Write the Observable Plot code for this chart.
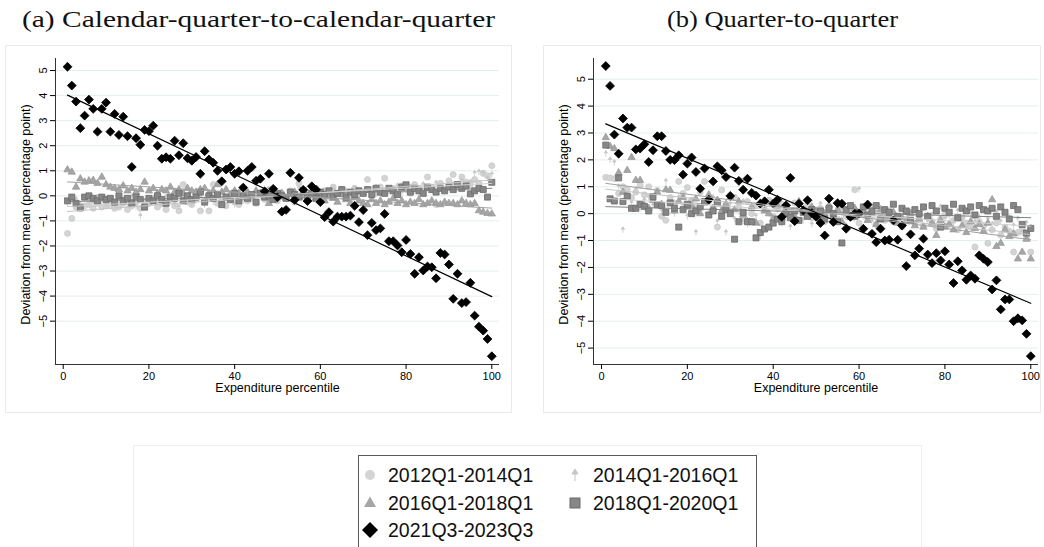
<!DOCTYPE html>
<html>
<head>
<meta charset="utf-8">
<script src="https://cdn.jsdelivr.net/npm/d3@7"></script>
<script src="https://cdn.jsdelivr.net/npm/@observablehq/plot@0.6"></script>
<style>
  body { margin: 0; background: #fff; width: 1044px; height: 547px; overflow: hidden; position: relative;
         font-family: "Liberation Sans", Arial, sans-serif; }
  .title { position: absolute; top: 6px; font-family: "Liberation Serif", serif; font-size: 24px;
           white-space: nowrap; color: #111; transform-origin: 0 0; }
  .panel { position: absolute; top: 45px; height: 368px; border: 1px solid #e6ecee; box-sizing: border-box; }
  .panel svg { display: block; }
  #outer { position: absolute; left: 133px; top: 445px; width: 787px; height: 130px; border: 1px solid #eceff0; }
  #legend { position: absolute; left: 358px; top: 455px; width: 397px; height: 130px; border: 1px solid #5a5a5a; background: #fff; }
  .item { position: absolute; font-size: 19.5px; line-height: 20px; color: #111; white-space: nowrap; }
  .item svg { position: absolute; left: -26px; top: 0; }
</style>
</head>
<body>
<div class="title" data-w="473" style="left:22px">(a) Calendar-quarter-to-calendar-quarter</div>
<div class="title" data-w="231" style="left:667px">(b) Quarter-to-quarter</div>
<div class="panel" id="pa" style="left:5px;width:507px"></div>
<div class="panel" id="pb" style="left:543px;width:498px"></div>
<div id="outer"></div>
<div id="legend"></div>
<script>
// expenditure percentiles
const pct = d3.range(1, 101)

// (a) calendar-quarter-to-calendar-quarter
const a12 = [-1.5, -0.9, -0.45, -0.5, -0.4, -0.35, -0.5, -0.3, -0.45, -0.4,
  -0.35, -0.5, -0.45, -0.3, -0.55, -0.4, -0.25, -0.5, -0.35, -0.3,
  -0.2, -0.45, -0.3, -0.55, -0.15, -0.4, -0.6, 0.45, -0.25, -0.35,
  -0.1, -0.6, -0.2, -0.6, 0.45, -0.3, -0.15, -0.4, 0.0, -0.25,
  -0.35, 0.05, -0.2, -0.1, -0.3, 0.1, -0.15, 0.25, -0.05, -0.2,
  0.1, -0.1, 0.2, -0.25, 0.5, 0.05, 0.15, -0.1, 0.3, 0.0,
  0.2, -0.05, 0.35, 0.1, 0.25, 0.15, -0.15, 0.3, 0.2, 0.1,
  0.65, 0.25, 0.1, 0.35, 0.7, 0.2, 0.3, 0.15, 0.4, 0.25,
  0.1, 0.45, 0.3, 0.2, 0.75, 0.35, -0.35, 0.5, 0.25, 0.6,
  0.85, 0.4, 0.75, 0.55, 0.45, 0.65, 0.5, 0.9, 0.8, 1.2]
const a14 = [-0.3, -0.2, -0.15, -0.35, -0.1, -0.25, -0.3, -0.05, -0.2, -0.4,
  -0.1, -0.3, -0.2, -0.15, -0.35, -0.05, -0.45, -0.8, -0.2, -0.3,
  -0.1, -0.25, -0.35, -0.05, -0.2, -0.3, -0.45, -0.1, -0.15, -0.3,
  -0.2, -0.05, -0.35, -0.15, -0.25, 0.05, -0.3, -0.1, -0.2, -0.35,
  -0.05, -0.2, 0.1, -0.15, -0.3, 0.0, -0.1, -0.25, 0.05, -0.15,
  0.1, -0.05, 0.15, 0.0, 0.3, -0.1, 0.05, 0.2, -0.05, 0.1,
  0.15, 0.0, 0.25, 0.1, -0.05, 0.2, 0.1, 0.3, 0.05, 0.15,
  0.25, 0.1, 0.35, 0.0, 0.2, 0.3, 0.15, 0.4, 0.1, 0.25,
  0.35, 0.2, 0.15, 0.45, 0.3, 0.25, 0.5, 0.35, 0.2, 0.4,
  0.45, 0.3, 0.6, 0.4, 0.55, 0.9, 0.95, 0.9, 0.7, 0.85]
const a16 = [1.04, 0.95, 0.35, 0.68, 0.55, 0.6, 0.62, 0.5, 0.75, 0.45,
  0.35, 0.3, 0.25, 0.4, 0.2, 0.3, 0.15, 0.25, 0.55, 0.2,
  0.3, 0.1, 0.25, 0.2, 0.35, 0.15, 0.25, 0.1, 0.3, 0.2,
  0.15, 0.25, 0.3, 0.1, 0.2, 0.45, 0.15, 0.25, 0.05, 0.2,
  0.1, 0.3, 0.15, 0.0, 0.2, 0.1, -0.05, -0.3, 0.15, 0.05,
  0.1, -0.1, 0.05, 0.15, -0.05, 0.0, -0.15, 0.1, -0.1, 0.05,
  -0.2, 0.0, -0.1, -0.25, 0.05, -0.15, -0.3, -0.05, -0.2, -0.3,
  -0.35, -0.15, -0.3, -0.2, -0.35, -0.25, -0.1, -0.3, -0.2, -0.35,
  -0.25, -0.3, -0.15, -0.35, -0.3, -0.2, -0.3, -0.35, -0.25, -0.3,
  -0.3, -0.35, -0.2, -0.3, -0.35, -0.3, -0.59, -0.65, -0.7, -0.72]
const a18 = [-0.2, -0.05, -0.3, -0.48, -0.05, 0.0, -0.1, -0.2, -0.05, -0.15,
  -0.1, -0.25, 0.0, -0.2, -0.1, -0.3, -0.05, -0.15, -0.45, -0.1,
  -0.2, 0.0, -0.15, -0.3, -0.05, -0.1, 0.1, -0.2, 0.0, -0.15,
  -0.05, 0.15, -0.25, 0.0, -0.1, 0.05, -0.35, -0.05, -0.15, 0.1,
  -0.2, 0.0, -0.1, 0.05, -0.25, 0.1, -0.05, 0.0, -0.15, 0.1,
  0.0, -0.1, 0.15, 0.05, -0.05, 0.2, 0.0, 0.1, -0.1, 0.15,
  0.05, 0.2, 0.0, 0.1, 0.25, -0.05, 0.15, 0.05, 0.2, 0.1,
  0.25, 0.05, 0.3, 0.15, 0.1, 0.3, 0.2, 0.05, 0.35, 0.44,
  0.15, 0.3, 0.2, 0.1, 0.35, 0.25, 0.15, 0.3, 0.2, 0.35,
  0.25, 0.45, 0.3, 0.4, 0.08, 0.2, 0.3, 0.25, -0.05, 0.54]
const a21 = [5.15, 4.4, 3.76, 2.7, 3.2, 3.84, 3.47, 2.56, 3.47, 3.72,
  2.56, 3.27, 2.43, 3.16, 2.38, 1.15, 2.3, 2.04, 2.63, 2.58,
  2.8, 2.0, 1.48, 1.54, 1.48, 2.2, 1.62, 2.1, 1.5, 1.4,
  1.55, 0.88, 1.78, 1.45, 1.32, 1.0, 0.58, 1.05, 1.15, 0.88,
  0.98, 0.33, 1.0, 1.15, 0.6, 0.68, 0.18, 0.88, 0.28, -0.06,
  -0.63, -0.56, 0.92, -0.16, 0.72, 0.24, -0.21, 0.38, 0.24, -0.25,
  -0.85, -0.65, -1.03, -0.83, -0.83, -0.83, -0.79, -0.4, -1.05, -0.57,
  -1.57, -1.08, -1.37, -1.3, -0.72, -1.81, -1.81, -1.98, -2.25, -1.76,
  -2.32, -3.11, -2.45, -2.98, -2.82, -2.85, -3.29, -2.28, -2.34, -2.74,
  -4.11, -3.11, -4.28, -4.24, -3.47, -4.78, -5.22, -5.38, -5.71, -6.4]

// (b) quarter-to-quarter
const b12 = [1.35, 1.33, 1.3, 0.75, 1.0, 0.9, 0.6, 0.8, 1.05, 0.7,
  1.0, 0.5, 0.86, -0.1, -0.25, 0.6, 0.4, 1.2, 0.75, 0.97,
  0.5, 0.3, 0.8, 1.2, 0.45, 0.2, -0.5, 0.88, 0.35, 0.1,
  0.6, 0.25, -0.2, 0.45, 0.0, 0.3, -0.35, 0.15, 0.5, -0.1,
  0.2, 0.35, -0.05, 0.1, 0.4, -0.25, 0.05, 0.3, -0.15, 0.1,
  0.2, -0.3, 0.15, 0.0, -0.2, 0.25, -0.1, 0.1, 0.89, -0.35,
  0.05, -0.15, 0.2, -0.4, 0.0, -0.25, 0.1, -0.3, -0.1, -0.5,
  -0.2, 0.05, -0.35, -0.15, -0.45, -0.1, -0.3, -0.55, -0.2, -0.05,
  -0.4, -0.25, -0.6, -0.15, -0.35, -0.5, -1.24, -0.3, -0.45, -1.1,
  -0.6, -0.35, -0.8, -0.5, -0.65, -1.43, -0.7, -0.55, -0.9, -1.43]
const b14 = [2.24, 2.0, 1.9, 1.0, -0.6, 0.7, 0.4, 0.9, 0.2, 0.5,
  0.6, 0.3, 0.8, 0.1, 1.2, 0.4, 0.0, 0.6, 0.3, -0.1,
  0.5, -0.7, 0.2, 0.4, 0.0, 0.6, -0.3, 0.2, -0.7, 0.35,
  -0.2, 0.1, 0.45, -0.4, 0.2, -0.1, -0.85, 0.3, 0.0, -0.2,
  0.15, -0.35, 0.25, -0.5, 0.0, 0.3, -0.25, 0.1, -0.4, 0.05,
  0.35, -0.15, 0.1, -0.3, 0.2, 0.0, -0.45, 0.15, -0.2, 0.9,
  -0.1, 0.2, -0.3, 0.05, -0.5, 0.15, -0.2, 0.0, -0.35, 0.1,
  -0.25, 0.05, -0.4, -0.1, 0.2, -0.3, -0.05, -0.45, 0.25, -0.2,
  -0.1, -0.35, 0.1, -0.25, -0.5, 0.0, -0.3, -0.15, -0.6, -0.2,
  -0.4, 0.05, -0.3, -0.55, -0.15, -0.45, -0.2, -0.7, -0.35, -0.5]
const b16 = [2.83, 2.5, 2.42, 1.52, 0.8, 1.61, 2.09, 1.24, 1.24, 0.3,
  0.2, 0.5, 0.8, 0.35, 0.89, 0.87, 0.1, 0.45, 0.6, 0.25,
  0.3, 0.55, 0.0, 0.4, 0.7, 0.2, 0.5, 0.1, 0.35, 0.6,
  0.15, 0.45, -0.05, -0.3, 0.25, -0.35, 0.4, 0.1, 0.0, -0.2,
  0.3, -0.15, 0.2, 0.05, -0.1, 0.45, 0.15, -0.05, 0.25, 0.1,
  -0.2, 0.0, 0.3, -0.1, 0.15, -0.3, 0.05, -0.15, 0.2, -0.05,
  0.1, -0.25, 0.0, -0.4, 0.15, -0.2, -0.1, 0.05, -0.35, -0.15,
  -0.3, 0.0, -0.45, -0.2, -0.5, -0.1, -0.35, -0.81, -0.25, -0.5,
  -0.4, -0.6, -0.2, -0.45, -0.7, -0.3, -0.55, -0.4, -0.65, -0.35,
  0.52, -1.22, -1.1, -0.6, -0.85, -0.75, -1.68, -1.43, -0.95, -1.68]
const b18 = [2.55, 0.55, 0.47, 1.33, 0.45, 0.65, 0.2, 0.2, 0.35, 0.27,
  0.1, 0.63, 0.33, 0.3, 0.05, 0.4, 0.2, -0.5, 0.15, 0.35,
  0.0, 0.1, 0.25, 0.45, -0.05, 0.1, 0.4, -0.1, 0.15, 0.0,
  -0.95, -0.3, 0.05, -0.3, -0.3, -0.9, -0.7, -0.57, -0.5, -0.35,
  -0.2, -0.3, 0.0, -0.15, 0.1, -0.25, 0.05, -0.1, 0.15, -0.05,
  0.1, -0.2, 0.2, 0.0, -0.3, -1.09, 0.15, 0.3, -0.1, 0.05,
  0.25, -0.05, 0.1, 0.3, -0.2, 0.15, 0.05, 0.35, -0.1, 0.2,
  0.1, -0.25, 0.15, 0.0, 0.25, -0.1, 0.3, 0.1, -0.5, 0.2,
  0.05, 0.35, -0.15, 0.2, 0.1, 0.25, -0.05, 0.3, 0.15, 0.1,
  0.2, -0.1, 0.25, 0.05, -0.2, 0.3, 0.15, -0.4, -0.72, -0.55]
const b21 = [5.49, 4.75, 2.94, 2.23, 3.54, 3.2, 3.2, 2.39, 2.42, 2.58,
  1.92, 2.36, 2.88, 2.88, 2.33, 2.0, 1.99, 2.17, 1.45, 1.86,
  2.09, 1.55, 0.93, 1.68, 0.52, 1.2, 1.76, 1.61, 1.36, 0.66,
  1.71, 1.22, 0.89, 1.3, 0.77, 0.67, 0.37, 0.46, 0.89, 0.37,
  0.52, -0.12, 0.31, 1.33, -0.28, 0.37, 0.12, 0.5, 0.02, -0.12,
  -0.35, -0.81, 0.56, -0.31, 0.39, 0.37, -0.56, -0.12, 0.0, 0.0,
  -0.56, 0.34, -0.75, -1.06, -0.56, -1.0, -0.97, -0.25, -0.97, -0.44,
  -1.95, -0.77, -1.55, -1.3, -0.93, -1.52, -1.84, -1.47, -1.74, -1.4,
  -1.89, -2.58, -1.77, -2.11, -2.46, -2.3, -2.42, -1.55, -1.68, -1.8,
  -2.82, -2.48, -3.56, -3.19, -3.19, -4.0, -3.89, -3.97, -4.47, -5.3]

const periods = ['2012Q1-2014Q1', '2014Q1-2016Q1', '2016Q1-2018Q1', '2018Q1-2020Q1', '2021Q3-2023Q3']
const yTicks = [-5, -4, -3, -2, -1, 0, 1, 2, 3, 4, 5]
const xTicks = [0, 20, 40, 60, 80, 100]

// stata-ish "spike" marker: small arrow head on a stem
const spike = {
  draw(ctx, size) {
    const r = Math.sqrt(size / Math.PI)
    ctx.moveTo(0, -r * 1.3)
    ctx.lineTo(r * 0.7, -r * 0.2)
    ctx.lineTo(-r * 0.7, -r * 0.2)
    ctx.closePath()
    ctx.moveTo(0, -r * 0.2)
    ctx.lineTo(0, r * 1.3)
  }
}

const look = [
  {symbol: 'circle', r: 3, fill: '#d4d4d4', stroke: '#c9c9c9', line: '#c4c4c4'},
  {symbol: spike, r: 2.4, fill: '#c6c6c6', stroke: '#c6c6c6', line: '#d0d0d0'},
  {symbol: 'triangle', r: 2.7, fill: '#a6a6a6', stroke: '#999', line: '#a0a0a0'},
  {symbol: 'square', r: 3.4, fill: '#878787', stroke: '#6a6a6a', line: '#808080'},
  {symbol: 'diamond2', r: 4, fill: '#000', stroke: '#000', line: '#000'}
]

function panel(series, w, h, xdom, ydom, marginRight) {
  let marks = [
    Plot.gridY(yTicks, {stroke: '#e4eef0', strokeOpacity: 1}),
    Plot.ruleX([xdom[0]], {stroke: '#333'}),
    Plot.ruleY([ydom[0]], {stroke: '#333'}),
    Plot.axisY(yTicks, {tickRotate: -90, tickSize: 5, tickPadding: 4, fontSize: 11, label: null}),
    Plot.axisX(xTicks, {tickSize: 5, tickPadding: 3, fontSize: 11, label: null}),
    Plot.text(['Deviation from mean (percentage point)'], {frameAnchor: 'left', textAnchor: 'middle', rotate: -90, dx: -30, dy: 3, fontSize: 12.5}),
    Plot.text(['Expenditure percentile'], {frameAnchor: 'bottom', textAnchor: 'middle', dy: 27, fontSize: 12.5})
  ]
  let tables = series.map((vals, k) => vals.map((v, i) => ({pct: pct[i], dev: v, period: periods[k]})))
  tables.forEach((t, k) => {
    let s = look[k]
    marks.push(Plot.dot(t, {x: 'pct', y: 'dev', symbol: () => s.symbol, r: s.r, fill: s.fill, stroke: s.stroke, strokeWidth: 0.8}))
  })
  tables.forEach((t, k) => {
    marks.push(Plot.linearRegressionY(t, {x: 'pct', y: 'dev', stroke: look[k].line, strokeWidth: k == 4 ? 1.2 : 1, ci: 0}))
  })
  return Plot.plot({
    width: w, height: h,
    marginLeft: 49, marginRight: marginRight, marginTop: 12, marginBottom: 48,
    x: {domain: xdom},
    y: {domain: ydom},
    symbol: {type: 'identity'},
    style: {fontFamily: '"Liberation Sans", Arial, sans-serif', fontSize: '12px', color: '#000', background: '#fff'},
    marks: marks
  })
}

d3.select('#pa').append(() => panel([a12, a14, a16, a18, a21], 505, 366, [-1.8, 101.8], [-6.73, 5.48], 12))
d3.select('#pb').append(() => panel([b12, b14, b16, b18, b21], 496, 366, [-1.86, 101.8], [-5.61, 5.77], 2))

// stretch the serif titles to the width they have in the paper
d3.selectAll('.title').each(function () {
  const w = this.getBoundingClientRect().width
  this.style.transform = 'scaleX(' + (+this.dataset.w / w) + ')'
})

// legend
const spots = [[29, 9], [234, 9], [29, 37], [234, 37], [29, 64]]
const keyPaths = [
  '<circle cx="8" cy="10" r="5" fill="#d4d4d4"/>',
  '<path d="M8 4 L11 9 L5 9 Z M8 9 L8 16" fill="#c6c6c6" stroke="#c6c6c6" stroke-width="1"/>',
  '<path d="M8 3.5 L14 14 L2 14 Z" fill="#a6a6a6"/>',
  '<rect x="3" y="5" width="10" height="10" fill="#878787" stroke="#6a6a6a"/>',
  '<path d="M8 2 L16 10 L8 18 L0 10 Z" fill="#000"/>'
]
const leg = d3.select('#legend')
periods.forEach((p, i) => {
  let it = leg.append('div').attr('class', 'item')
    .style('left', spots[i][0] + 'px').style('top', spots[i][1] + 'px')
  it.html('<svg width="20" height="20">' + keyPaths[i] + '</svg>' + p)
})
</script>
</body>
</html>
